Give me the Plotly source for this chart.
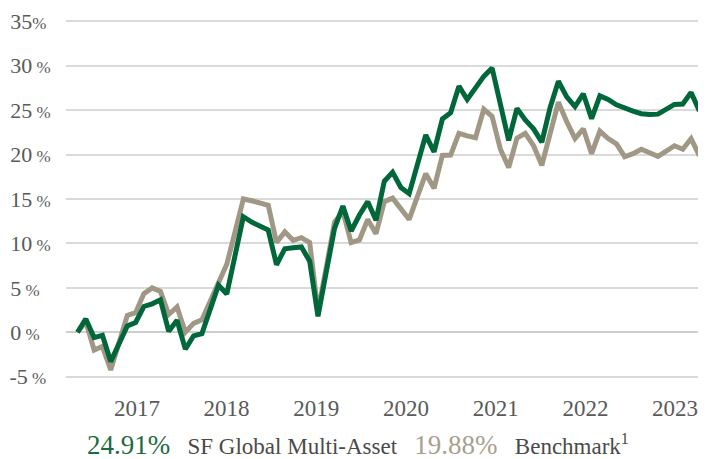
import pandas as pd
import plotly.graph_objects as go

# ---- data ----
fund_name = "SF Global Multi-Asset"
bench_name = "Benchmark<sup>1</sup>"

fund = [0.0, 1.5, -0.6, -0.35, -3.3, -1.3, 0.7, 1.1, 2.9, 3.2,
        3.65, 0.1, 1.35, -1.9, -0.4, -0.15, 2.6, 5.3, 4.3, 8.6,
        13.0, 12.4, 11.9, 11.5, 7.6, 9.4, 9.5, 9.6, 8.0, 1.8,
        6.8, 11.7, 14.2, 11.4, 13.2, 14.7, 12.6, 17.0, 18.0, 16.3,
        15.6, 18.9, 22.2, 20.3, 24.0, 24.7, 27.7, 26.2, 27.5, 28.8,
        29.75, 25.5, 21.6, 25.2, 23.9, 22.9, 21.4, 25.3, 28.25, 26.5,
        25.4, 26.85, 24.05, 26.6, 26.2, 25.6, 25.2, 24.9, 24.6, 24.5,
        24.55, 25.1, 25.65, 25.7, 27.0, 24.91]

bench = [0.0, 1.2, -2.0, -1.6, -4.25, -1.2, 1.9, 2.2, 4.35, 5.0,
         4.6, 2.0, 2.85, 0.0, 1.0, 1.4, 3.4, 5.4, 7.65, 11.3,
         15.0, 14.8, 14.6, 14.3, 10.1, 11.3, 10.35, 10.65, 10.1, 2.3,
         7.3, 12.4, 13.6, 10.1, 10.4, 12.7, 11.1, 14.7, 15.1, 13.9,
         12.7, 15.3, 17.85, 16.2, 19.9, 19.95, 22.4, 22.1, 21.9, 25.1,
         24.3, 20.6, 18.55, 21.85, 22.4, 21.0, 18.8, 22.35, 25.9, 23.7,
         21.8, 22.9, 20.1, 22.65, 21.8, 21.2, 19.75, 20.1, 20.6, 20.2,
         19.8, 20.4, 21.0, 20.6, 21.8, 19.88]

start_date = "2016-05-04"
end_date = "2023-04-10"
dates = pd.date_range(start_date, end_date, periods=len(fund))

year_labels = ["2017", "2018", "2019", "2020", "2021", "2022", "2023"]
year_ticks = [f"{y}-01-01" for y in year_labels]

y_ticks = [-5, 0, 5, 10, 15, 20, 25, 30, 35]

# ---- styling ----
GREEN = "#00673a"
BEIGE = "#a09785"
GREEN_TXT = "#1d6b41"
BEIGE_TXT = "#a89f8e"
TICK = "#5a5a5a"
LABEL = "#4a4a4a"
FONT = "Liberation Serif"

def ylab(v):
    # labels are left-aligned in the reference: pad narrower ones on the right
    s = str(v)
    sep = "" if v == 35 else " "
    tail = "\u00a0" if v == 35 else ""
    if len(s) == 1:
        pad = "\u2007"
    elif s.startswith("-"):
        pad = "\u2009"
    else:
        pad = ""
    return f"{s}<span style='font-size:17px'>{sep}%{tail}</span>{pad}"

y_text = [ylab(v) for v in y_ticks]

fig = go.Figure()
fig.add_trace(go.Scatter(x=dates, y=bench, mode="lines", name="Benchmark",
                         line=dict(color=BEIGE, width=5), hoverinfo="skip"))
fig.add_trace(go.Scatter(x=dates, y=fund, mode="lines", name=fund_name,
                         line=dict(color=GREEN, width=5), hoverinfo="skip"))

# page body has an 8px margin, so the figure is laid out 8px up/left
W, H = 698, 451
fig.update_layout(
    width=W, height=H,
    margin=dict(l=58, r=0, t=12, b=81, pad=0),
    paper_bgcolor="white", plot_bgcolor="white",
    showlegend=False,
    font=dict(family=FONT, color=TICK),
    xaxis=dict(
        range=["2016-03-18", "2023-05-07"],
        tickvals=year_ticks, ticktext=year_labels,
        showgrid=False, zeroline=False, showline=False,
        ticks="outside", ticklen=9, tickcolor="rgba(0,0,0,0)",
        tickfont=dict(family=FONT, size=23, color=TICK),
    ),
    yaxis=dict(
        range=[-5.15, 35.15],
        tickvals=y_ticks, ticktext=y_text,
        showgrid=True, gridcolor="#dadada", gridwidth=1.5,
        zeroline=True, zerolinecolor="#cdcdcd", zerolinewidth=2.2,
        showline=False,
        ticks="outside", ticklen=10, tickcolor="rgba(0,0,0,0)",
        tickfont=dict(family=FONT, size=22, color=TICK),
    ),
)

sp = "\u00a0"
legend_text = (
    f"<span style='font-size:27px;color:{GREEN_TXT}'>{fund[-1]:.2f}%</span>"
    f"{sp*3}<span style='color:{LABEL}'>{fund_name}</span>{sp*3}"
    f"<span style='font-size:27px;color:{BEIGE_TXT}'>{bench[-1]:.2f}%</span>"
    f"{sp*3}<span style='color:{LABEL}'>{bench_name}</span>"
)
fig.add_annotation(
    x=(349.5 - 58) / (W - 58), xref="paper", xanchor="center",
    y=(370 - 437) / 358, yref="paper", yanchor="middle",
    text=legend_text, showarrow=False,
    font=dict(family=FONT, size=23, color=LABEL),
)

fig.write_html("out.html")
